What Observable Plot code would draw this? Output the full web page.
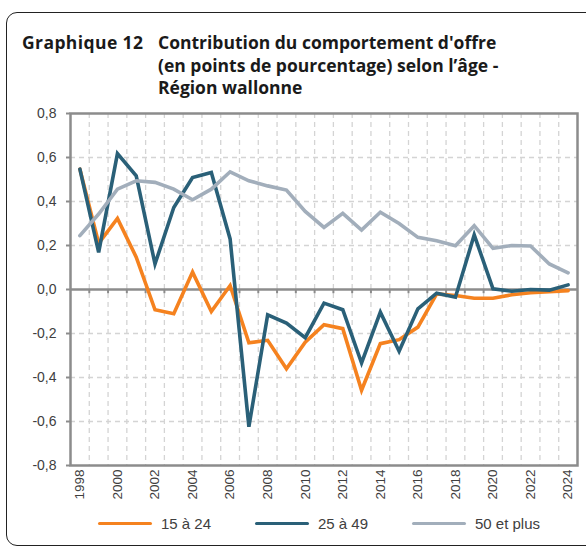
<!DOCTYPE html>
<html>
<head>
<meta charset="utf-8">
<script src="https://cdn.jsdelivr.net/npm/d3@7"></script>
<script src="https://cdn.jsdelivr.net/npm/@observablehq/plot@0.6"></script>
<style>
  html, body { margin: 0; padding: 0; background: #fff; }
  #wrap { position: relative; width: 586px; height: 548px; overflow: hidden; font-family: "Liberation Sans", Arial, sans-serif; }
  #frame { position: absolute; left: 6px; top: 12px; width: 600px; height: 534px; border: 1.3px solid #222; border-radius: 11px; box-sizing: border-box; }
  .tl { position: absolute; font-family: "Open Sans", sans-serif; font-weight: bold; font-size: 17.5px; color: #1a1a1a; white-space: nowrap; line-height: 1; }
  #chart { position: absolute; left: 0; top: 0; }
  .leg { position: absolute; top: 515px; font-size: 15px; color: #404040; display: flex; align-items: center; white-space: nowrap; }
  .leg span.sw { display: inline-block; width: 54px; height: 3.5px; border-radius: 2px; margin-right: 9px; }
</style>
</head>
<body>
<div id="wrap">
  <div id="frame"></div>
  <div id="chart"></div>
  <div class="tl" style="left:22px; top:34px; letter-spacing:0.4px;">Graphique 12</div>
  <div class="tl" style="left:158px; top:34px;">Contribution du comportement d'offre</div>
  <div class="tl" style="left:158px; top:57px;">(en points de pourcentage) selon l’âge -</div>
  <div class="tl" style="left:158px; top:79px;">Région wallonne</div>
  <div id="legend"></div>
</div>
<script>
const years = d3.range(1998, 2025);
const seriesNames = ["15 à 24", "25 à 49", "50 et plus"];
const seriesColors = ["#f5821f", "#2a6078", "#a2aebb"];
const v15_24 = [0.547, 0.21, 0.323, 0.147, -0.092, -0.11, 0.079, -0.10, 0.018, -0.242, -0.231, -0.36, -0.24, -0.16, -0.178, -0.458, -0.246, -0.228, -0.171, -0.02, -0.027, -0.04, -0.04, -0.024, -0.015, -0.01, -0.005];
const v25_49 = [0.547, 0.169, 0.618, 0.517, 0.116, 0.373, 0.509, 0.532, 0.23, -0.624, -0.115, -0.153, -0.219, -0.062, -0.092, -0.334, -0.103, -0.281, -0.088, -0.017, -0.035, 0.248, 0.003, -0.008, 0.0, -0.003, 0.021];
const v50plus = [0.245, 0.343, 0.456, 0.494, 0.487, 0.456, 0.408, 0.456, 0.535, 0.494, 0.471, 0.452, 0.355, 0.282, 0.346, 0.27, 0.351, 0.30, 0.237, 0.222, 0.199, 0.29, 0.187, 0.2, 0.198, 0.116, 0.076];
const yTicks = [-0.8, -0.6, -0.4, -0.2, 0, 0.2, 0.4, 0.6, 0.8];
const xTickYears = d3.range(1998, 2025, 2);

const allValues = [v15_24, v25_49, v50plus];
const data = [];
seriesNames.forEach((s, i) => years.forEach((yr, j) => data.push({series: s, year: yr, value: allValues[i][j]})));
const boundaries = years.slice(0, -1).map(y => y + 0.5);
const fmt = d => d3.format(".1f")(d).replace(".", ",").replace("−", "-");

const grey = "#8c8c8c";
const plot = Plot.plot({
  width: 586,
  height: 548,
  marginLeft: 70,
  marginRight: 9,
  marginTop: 113,
  marginBottom: 83,
  style: {fontFamily: "Liberation Sans, Arial, sans-serif", background: "transparent", overflow: "visible"},
  x: {domain: [1997.5, 2024.5], axis: null},
  y: {domain: [-0.8, 0.8], axis: null},
  color: {domain: seriesNames, range: seriesColors},
  marks: [
    Plot.ruleX(boundaries, {stroke: "#d4d4d4", strokeWidth: 1.3, strokeDasharray: "5,4"}),
    Plot.ruleY(yTicks.filter(d => d !== 0 && Math.abs(d) < 0.8), {stroke: "#d4d4d4", strokeWidth: 1.3, strokeDasharray: "5,4"}),
    Plot.ruleX(boundaries, {y1: 0, y2: -0.019, stroke: grey, strokeWidth: 2}),
    Plot.ruleY([0], {stroke: grey, strokeWidth: 2.5}),
    Plot.frame({stroke: grey, strokeWidth: 2.5}),
    Plot.axisY(yTicks, {label: null, tickSize: 4, tickPadding: 10, stroke: grey, strokeWidth: 2, tickFormat: fmt, fontSize: 14, fill: "#404040"}),
    Plot.axisX(xTickYears, {label: null, tickSize: 0, tickPadding: 4, tickRotate: -90, fontSize: 13.5, fill: "#404040", tickFormat: d => String(d)}),
    Plot.line(data, {x: "year", y: "value", z: "series", stroke: "series", strokeWidth: 3.6, strokeLinejoin: "miter", strokeMiterlimit: 4})
  ]
});
document.getElementById("chart").appendChild(plot);

const legendPos = [98, 255, 412];
const legend = document.getElementById("legend");
seriesNames.forEach((s, i) => {
  const d = document.createElement("div");
  d.className = "leg";
  d.style.left = legendPos[i] + "px";
  d.innerHTML = `<span class="sw" style="background:${seriesColors[i]}"></span>${s}`;
  legend.appendChild(d);
});
</script>
</body>
</html>
